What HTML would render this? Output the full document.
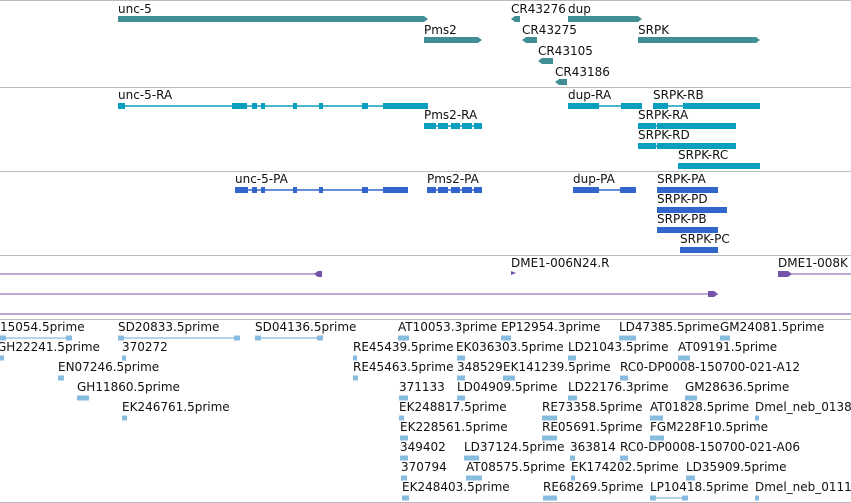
<!DOCTYPE html>
<html><head><meta charset="utf-8"><style>
body{margin:0;background:#fff;width:851px;height:503px;overflow:hidden}
svg{display:block;font-family:"DejaVu Sans","Liberation Sans",sans-serif;font-size:12px}
</style></head><body>
<svg id="v" width="851" height="503"></svg>
<script>
const NS="http://www.w3.org/2000/svg";
const svg=document.getElementById('v');
// track separators (y)
const separators=[0.5,87.5,171.5,255.5,319.5,502.5];
// gene features: label, x1, x2, row top y, strand
const genes=[["unc-5",118,428,3,1],["Pms2",424,482,24,1],["CR43276",511,520,3,-1],["dup",568,642,3,1],["CR43275",522,537,24,-1],["SRPK",638,760,24,1],["CR43105",538,553,45,-1],["CR43186",555,567,66,-1]];
// transcripts: label, labelX, rowY, exons [x1,x2]
const transcripts=[
["unc-5-RA",118,89,[[118,125],[232,247],[252,257],[261,265],[293,297],[319,323],[362,368],[383,428]]],
["Pms2-RA",424,109,[[424,436],[438,448],[451,460],[462,472],[474,482]]],
["dup-RA",568,89,[[568,599],[621,632],[632,642]]],
["SRPK-RB",653,89,[[653,668],[683,702],[702,760]]],
["SRPK-RA",638,109,[[638,651],[650,656],[657,683],[683,702],[702,736]]],
["SRPK-RD",638,129,[[638,651],[650,656],[657,683],[683,702],[702,736]]],
["SRPK-RC",678,149,[[678,702],[702,760]]]];
const proteins=[
["unc-5-PA",235,173,[[235,248],[252,257],[261,265],[293,297],[319,323],[362,368],[383,408]]],
["Pms2-PA",427,173,[[427,436],[438,448],[451,460],[462,472],[474,482]]],
["dup-PA",573,173,[[573,599],[620,636]]],
["SRPK-PA",657,173,[[657,683],[683,702],[702,718]]],
["SRPK-PD",657,193,[[657,683],[683,702],[702,727]]],
["SRPK-PB",657,213,[[657,683],[683,702],[702,718]]],
["SRPK-PC",680,233,[[680,702],[702,718]]]];
// ESTs: label, labelX, row index, feature x1, x2
const ests=[
["15054.5prime",0,0,0,72],["SD20833.5prime",118,0,118,240],["SD04136.5prime",255,0,255,323],["AT10053.3prime",398,0,398,409],["EP12954.3prime",501,0,501,511],["LD47385.5prime",619,0,619,636],["GM24081.5prime",720,0,720,730],
["GH22241.5prime",-3,1,0,4],["370272",122,1,122,126],["RE45439.5prime",353,1,353,357],["EK036303.5prime",456,1,457,465],["LD21043.5prime",568,1,568,576],["AT09191.5prime",678,1,678,690],
["EN07246.5prime",58,2,58,64],["RE45463.5prime",353,2,353,358],["348529",457,2,457,465],["EK141239.5prime",503,2,503,515],["RC0-DP0008-150700-021-A12",620,2,620,628],
["GH11860.5prime",77,3,77,89],["371133",399,3,399,408],["LD04909.5prime",457,3,457,465],["LD22176.3prime",568,3,568,577],["GM28636.5prime",685,3,685,697],
["EK246761.5prime",122,4,122,127],["EK248817.5prime",399,4,399,404],["RE73358.5prime",542,4,542,557],["AT01828.5prime",650,4,650,663],["Dmel_neb_0138",755,4,755,759],
["EK228561.5prime",400,5,400,408],["RE05691.5prime",542,5,542,557],["FGM228F10.5prime",650,5,650,664],
["349402",400,6,400,408],["LD37124.5prime",464,6,464,479],["363814",570,6,570,575],["RC0-DP0008-150700-021-A06",620,6,620,628],
["370794",401,7,401,407],["AT08575.5prime",466,7,466,482],["EK174202.5prime",571,7,571,575],["LD35909.5prime",686,7,686,695],
["EK248403.5prime",402,8,402,409],["RE68269.5prime",543,8,543,557],["LP10418.5prime",650,8,650,688],["Dmel_neb_0111",755,8,755,759]];
function el(t,a,p){const e=document.createElementNS(NS,t);for(const k in a)e.setAttribute(k,a[k]);(p||svg).appendChild(e);return e;}
function txt(s,x,y,name){const t=el('text',{x:x,y:y+10,fill:'#111'});t.textContent=s;

return t;}
separators.forEach(y=>{const l=el('line',{x1:0,x2:851,y1:y,y2:y,stroke:'#bbb'});

});
genes.forEach(g=>{const gr=el('g',{});


txt(g[0],g[1],g[3],'gene-label').remove();gr.appendChild(txt(g[0],g[1],g[3],'gene-label'));
const y=g[3]+13,x1=g[1],x2=g[2];
const pts=g[4]>0?`${x1},${y} ${x2-4},${y} ${x2},${y+3} ${x2-4},${y+6} ${x1},${y+6}`:`${x1+4},${y} ${x2},${y} ${x2},${y+6} ${x1+4},${y+6} ${x1},${y+3}`;
el('polygon',{points:pts,fill:'#418f94'},gr);});
function model(list,col,prefix){list.forEach(t=>{const gr=el('g',{});


gr.appendChild(txt(t[0],t[1],t[2],prefix+'-label'));
const y=t[2]+17,ex=t[3];
el('line',{x1:ex[0][0],x2:ex[ex.length-1][1],y1:y,y2:y,stroke:col,'stroke-width':1.5},gr);
ex.forEach(e=>el('rect',{x:e[0],y:y-3,width:Math.max(3,e[1]-e[0]),height:6,fill:col},gr));});}
model(transcripts,'#0a9fbf','transcript');
model(proteins,'#3366cc','protein');
// clone/BAC track
const pg=el('g',{});


pg.appendChild(txt('DME1-006N24.R',511,257,'clone-label'));
pg.appendChild(txt('DME1-008K',778,257,'clone-label'));
el('polygon',{points:'511,271 516,273 511,275',fill:'#7553a8'},pg);
el('line',{x1:0,x2:322,y1:274,y2:274,stroke:'#7553a8'},pg);
el('polygon',{points:'314,274 318,271 322,271 322,277 318,277',fill:'#7553a8'},pg);
el('line',{x1:0,x2:718,y1:294,y2:294,stroke:'#7553a8'},pg);
el('polygon',{points:'708,291 714,291 718,294 714,297 708,297',fill:'#7553a8'},pg);
el('line',{x1:0,x2:851,y1:314,y2:314,stroke:'#7553a8'},pg);
el('polygon',{points:'778,271 788,271 792,274 788,277 778,277',fill:'#7553a8'},pg);
el('line',{x1:778,x2:851,y1:274,y2:274,stroke:'#7553a8'},pg);
ests.forEach(e=>{const gr=el('g',{});


const y=321+e[2]*20;
gr.appendChild(txt(e[0],e[1],y,'est-label'));
const fy=y+17;
if(e[4]-e[3]>20){el('line',{x1:e[3],x2:e[4],y1:fy,y2:fy,stroke:'#88bbe0','stroke-width':1.2},gr);
el('rect',{x:e[3],y:fy-2.5,width:6,height:5,fill:'#88bbe0'},gr);el('rect',{x:e[4]-6,y:fy-2.5,width:6,height:5,fill:'#88bbe0'},gr);}
else el('rect',{x:e[3],y:fy-2.5,width:Math.max(4,e[4]-e[3]),height:5,fill:'#88bbe0'},gr);});
</script>
</body></html>
